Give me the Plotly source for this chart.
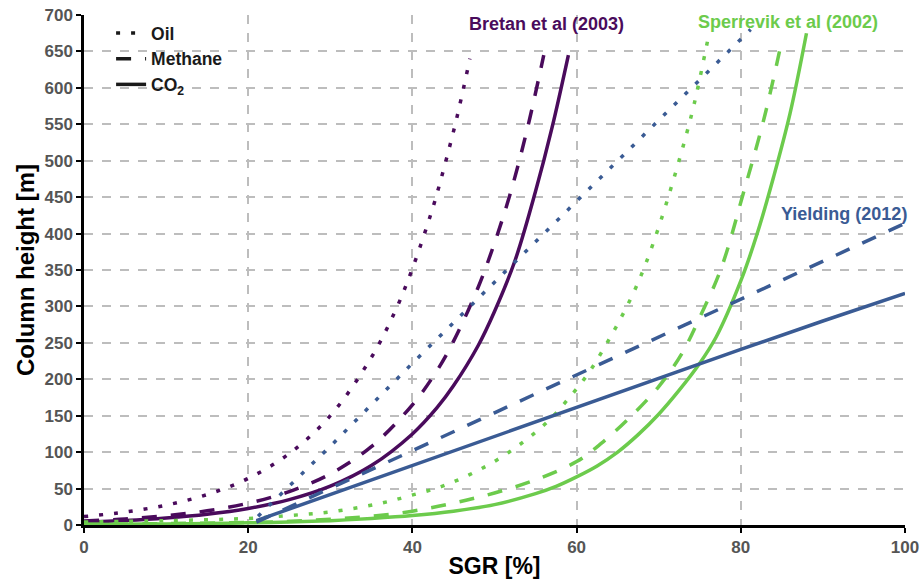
import plotly.graph_objects as go

# ---------------- data ----------------
# Bretan et al (2003)
bretan_oil_x = [0, 5, 10, 15, 20, 25, 30, 35, 38, 40, 42, 43, 45, 46, 47]
bretan_oil_y = [11.6, 17.8, 27.3, 41.8, 64, 98, 150, 230, 296, 352, 418, 455, 540, 588, 640]
bretan_ch4_x = [0, 5, 10, 15, 20, 25, 30, 35, 40, 43, 45, 48, 50, 52, 54, 56]
bretan_ch4_y = [5.4, 8.3, 12.8, 19.5, 29.9, 45.9, 70.2, 107.6, 165, 212, 252, 326, 387, 458, 544, 645]
bretan_co2_x = [0, 5, 10, 15, 20, 25, 30, 35, 40, 43, 45, 48, 50, 52.5, 55, 57, 59]
bretan_co2_y = [4.1, 6.3, 9.7, 14.8, 22.7, 34.8, 53.3, 81.6, 125, 161, 191, 246, 293, 363, 458, 545, 645]

# Sperrevik et al (2002)
sperr_oil_x = [0, 10, 20, 25, 30, 36.2, 39.8, 43.5, 46.9, 50.3, 53.5, 56.4, 58.9, 61.3, 63.3,
               65.2, 66.9, 68.4, 70.3, 72.5, 74, 74.8, 75.6, 76]
sperr_oil_y = [4, 6, 9, 13, 18, 30, 40.5, 52.7, 68.7, 89.3, 114, 141, 172, 206, 242,
               280, 318, 358, 419, 501, 563, 602, 645, 667]
sperr_ch4_x = [0, 10, 20, 25, 30, 35, 40, 45, 50, 55, 60, 63, 66.6, 70, 72.8, 75, 77.6, 80.3, 82.9, 85]
sperr_ch4_y = [1, 2, 3.5, 5, 8, 12, 19, 30, 44, 62, 87, 112, 149, 190, 235, 285, 352, 455, 561, 665]
sperr_co2_x = [0, 5, 10, 15, 20, 25, 30, 35, 40, 45, 50, 55, 57.5, 60, 62.5, 65, 67.5, 70, 72.5,
               75, 77, 80, 82, 84, 86, 88]
sperr_co2_y = [0.7, 1, 1.5, 2, 3, 4, 6, 9, 13, 19, 28, 43, 53, 66, 81, 100, 124, 152, 185,
               222, 258, 335, 400, 478, 565, 675]

# Yielding (2012)
yield_oil_x = [21.2, 30, 40, 50, 60, 70, 81.2]
yield_oil_y = [12, 108, 222, 333, 444, 555, 680]
yield_ch4_x = [21, 30, 40, 50, 60, 70, 80, 90, 100]
yield_ch4_y = [4, 50, 102, 154, 206, 258, 310, 362, 414]
yield_co2_x = [21, 30, 40, 50, 60, 70, 80, 90, 100]
yield_co2_y = [6, 42, 82, 122, 162, 202, 241, 280, 318]

legend_names = ["<b>Oil</b>", "<b>Methane</b>", "<b>CO<sub>2</sub></b>"]
x_ticks = [0, 20, 40, 60, 80, 100]
y_ticks = list(range(0, 701, 50))

# ---------------- styling ----------------
PURPLE = "#4a0b5c"
BLUE = "#3a5b94"
GREEN = "#6ccb4c"
DOT = "4px,11px"
DASH = "15px,14px"
LW = 3.5
FONT = "Liberation Sans, Arial, sans-serif"

fig = go.Figure()


def add(x, y, color, dash, shape="spline"):
    fig.add_trace(go.Scatter(
        x=x, y=y, mode="lines", showlegend=False, hoverinfo="skip",
        line=dict(color=color, width=LW, dash=dash, shape=shape, smoothing=1.0),
    ))


add(bretan_oil_x, bretan_oil_y, PURPLE, DOT)
add(bretan_ch4_x, bretan_ch4_y, PURPLE, DASH)
add(bretan_co2_x, bretan_co2_y, PURPLE, "solid")
add(sperr_oil_x, sperr_oil_y, GREEN, DOT)
add(sperr_ch4_x, sperr_ch4_y, GREEN, DASH)
add(sperr_co2_x, sperr_co2_y, GREEN, "solid")
add(yield_oil_x, yield_oil_y, BLUE, DOT, "linear")
add(yield_ch4_x, yield_ch4_y, BLUE, DASH, "linear")
add(yield_co2_x, yield_co2_y, BLUE, "solid", "linear")

for name, dash, grp in zip(legend_names, [DOT, DASH, "solid"], ["a", "b", "c"]):
    fig.add_trace(go.Scatter(
        x=[None], y=[None], mode="lines", name=name, legendgroup=grp,
        line=dict(color="#1a1a1a", width=LW, dash=dash),
    ))

ann_font = dict(family=FONT, size=18, weight="bold")
fig.add_annotation(x=56.3, y=687, text="Bretan et al (2003)", showarrow=False,
                   font=dict(ann_font, color=PURPLE), xanchor="center", yanchor="middle")
fig.add_annotation(x=85.7, y=690, text="Sperrevik et al (2002)", showarrow=False,
                   font=dict(ann_font, color=GREEN), xanchor="center", yanchor="middle")
fig.add_annotation(x=92.6, y=427, text="Yielding (2012)", showarrow=False,
                   font=dict(ann_font, color=BLUE), xanchor="center", yanchor="middle")

axis_common = dict(
    showgrid=True, gridcolor="#bdbdbd", gridwidth=1.5, griddash="dash",
    showline=True, linecolor="black", linewidth=2.5,
    ticks="outside", ticklen=5, tickwidth=1.5, tickcolor="black",
    tickfont=dict(family=FONT, size=17, color="#555555", weight="bold"),
    zeroline=False, automargin=False,
)

fig.update_layout(
    width=922, height=580,
    margin=dict(l=84, r=17, t=15, b=55),
    plot_bgcolor="white", paper_bgcolor="white",
    font=dict(family=FONT),
    xaxis=dict(axis_common, range=[0, 100], tickvals=x_ticks,
               title=dict(text="SGR [%]", font=dict(family=FONT, size=23, color="black", weight="bold"),
                          standoff=2)),
    yaxis=dict(axis_common, range=[0, 700], tickvals=y_ticks,
               title=dict(text="Column height [m]", font=dict(family=FONT, size=24, color="black", weight="bold"),
                          standoff=4)),
    legend=dict(x=0.033, y=1.0, xanchor="left", yanchor="top", bgcolor="rgba(0,0,0,0)",
                font=dict(family=FONT, size=17.5, color="#1a1a1a", weight="bold"),
                traceorder="grouped", tracegroupgap=0),
)

fig.write_html("out.html")
